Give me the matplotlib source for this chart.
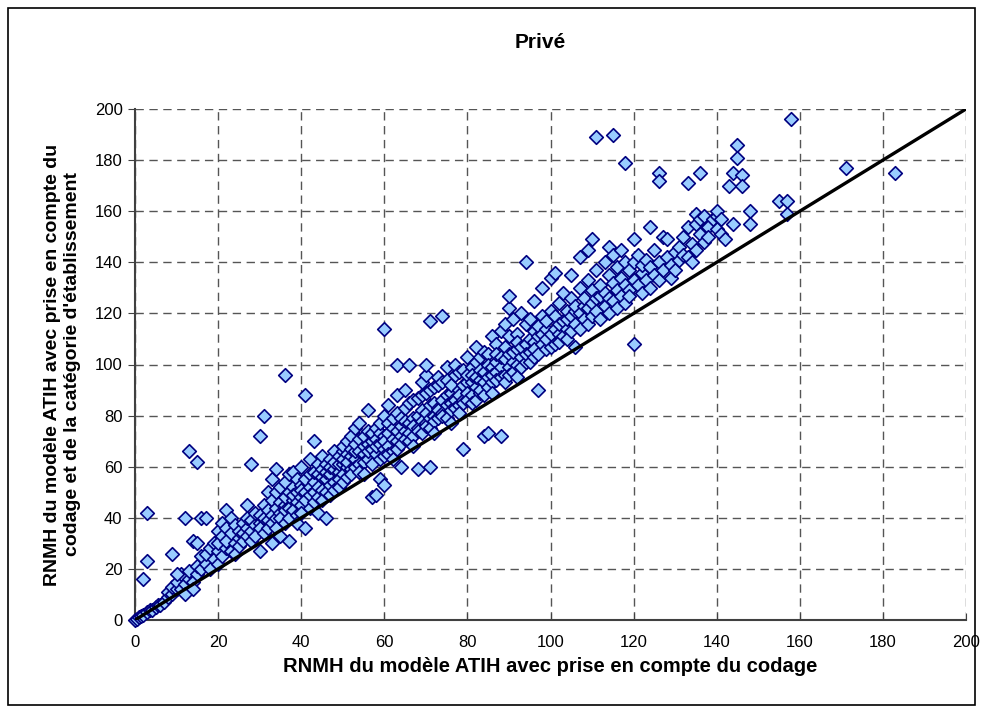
import matplotlib
matplotlib.use("Agg")
import matplotlib.pyplot as plt
from matplotlib.patches import Rectangle

plt.rcParams['font.family'] = ['Liberation Sans', 'DejaVu Sans']

# ---- data ----
seg_0_20 = [(0,0),(0.5,0.5),(1,1),(1.5,1.5),(2,2),(3,3),(3.5,4),(4,4),(5,5),(5.5,6),(6,6),(7,7),
            (8,9),(8,11),(9,10),(9,13),(10,12),(10,15),(11,12),(11,18),(12,14),(12,10),(13,16),(13,19),
            (14,15),(14,12),(15,18),(15,21),(16,20),(16,25),(17,22),(17,26),(18,20),(18,28),(19,24),
            (19,30),(20,27),(20,22),
            (2,16),(3,23),(3,42),(9,26),(10,18),(12,40),(13,66),(15,62),(14,31),(16,40),(17,40),(15,30)]
seg_20_32 = [(20,30),(20,35),(21,25),(21,33),(21,38),(22,28),(22,31),(22,36),(22,43),(23,27),(23,34),
             (23,40),(24,30),(24,26),(24,37),(25,32),(25,35),(25,29),(26,34),(26,38),(26,31),(27,36),
             (27,33),(27,45),(27,40),(28,35),(28,39),(28,31),(28,61),(29,37),(29,42),(29,33),(30,38),
             (30,36),(30,41),(30,72),(30,27),(31,40),(31,34),(31,80),(31,45),(32,39),(32,43),(32,36),(32,50)]
seg_33_42 = [(33,41),(33,47),(33,55),(33,38),(33,30),(34,44),(34,40),(34,50),(34,36),(34,59),(35,42),
             (35,46),(35,52),(35,40),(35,33),(36,45),(36,48),(36,96),(36,43),(36,54),(36,38),(37,44),
             (37,50),(37,57),(37,40),(37,31),(38,47),(38,52),(38,43),(38,49),(38,58),(39,46),(39,50),
             (39,55),(39,41),(39,38),(40,48),(40,53),(40,45),(40,60),(40,51),(40,42),(41,50),(41,88),
             (41,55),(41,36),(41,47),(42,52),(42,57),(42,49),(42,63),(42,44)]
seg_43_60 = [(43,54),(43,50),(43,58),(43,70),(43,46),(44,52),(44,57),(44,48),(44,61),(44,42),(45,56),
             (45,59),(45,51),(45,64),(45,47),(46,55),(46,58),(46,61),(46,40),(46,50),(47,57),(47,53),
             (47,63),(47,60),(47,49),(48,59),(48,54),(48,62),(48,66),(48,51),(49,58),(49,61),(49,64),
             (49,55),(49,52),(50,61),(50,57),(50,66),(50,63),(50,54),(50,68),(51,60),(51,65),(51,56),
             (51,70),(51,62),(52,64),(52,59),(52,67),(52,57),(52,72),(53,63),(53,66),(53,69),(53,60),
             (53,75),(54,66),(54,61),(54,71),(54,58),(54,77),(55,65),(55,68),(55,72),(55,62),(55,57),
             (56,69),(56,63),(56,74),(56,66),(56,82),(57,67),(57,70),(57,73),(57,61),(57,48),(58,71),
             (58,65),(58,75),(58,68),(58,49),(59,69),(59,73),(59,77),(59,63),(59,55),(60,72),(60,67),
             (60,114),(60,70),(60,80),(60,64),(60,53)]
seg_61_80 = [(61,73),(61,68),(61,77),(61,65),(61,84),(62,71),(62,75),(62,79),(62,66),(62,63),(63,74),
             (63,70),(63,81),(63,67),(63,100),(63,88),(64,76),(64,72),(64,79),(64,69),(64,60),(65,74),
             (65,78),(65,83),(65,71),(65,90),(66,77),(66,73),(66,85),(66,70),(66,100),(67,79),(67,76),
             (67,86),(67,72),(67,68),(68,80),(68,75),(68,87),(68,74),(68,59),(69,82),(69,78),(69,88),
             (69,73),(69,93),(70,81),(70,77),(70,89),(70,76),(70,96),(70,100),(71,84),(71,79),(71,90),
             (71,60),(71,117),(71,75),(72,85),(72,80),(72,91),(72,78),(72,73),(73,83),(73,82),(73,92),
             (73,79),(73,95),(74,86),(74,81),(74,119),(74,80),(74,93),(75,88),(75,84),(75,94),(75,79),
             (75,99),(76,89),(76,85),(76,92),(76,82),(76,77),(77,87),(77,86),(77,96),(77,83),(77,100),
             (78,90),(78,88),(78,97),(78,84),(78,81),(79,92),(79,86),(79,67),(79,85),(79,98),(80,93),
             (80,89),(80,96),(80,86),(80,103)]
seg_81_100 = [(81,93),(81,88),(81,99),(81,85),(81,96),(82,91),(82,95),(82,101),(82,86),(82,107),(83,94),
              (83,89),(83,103),(83,90),(83,98),(84,97),(84,93),(84,105),(84,88),(84,72),(85,95),(85,91),
              (85,104),(85,73),(85,100),(86,99),(86,93),(86,111),(86,96),(86,89),(87,97),(87,101),
              (87,108),(87,94),(87,104),(88,99),(88,95),(88,113),(88,72),(88,103),(89,102),(89,96),
              (89,116),(89,93),(89,107),(90,104),(90,99),(90,122),(90,127),(90,96),(90,111),(91,101),
              (91,105),(91,118),(91,97),(92,106),(92,100),(92,112),(92,95),(92,109),(93,103),(93,107),
              (93,120),(93,99),(94,108),(94,140),(94,101),(94,116),(94,104),(95,105),(95,110),(95,118),
              (95,101),(96,109),(96,103),(96,113),(96,106),(96,125),(97,111),(97,90),(97,115),(97,104),
              (98,108),(98,112),(98,119),(98,130),(99,114),(99,106),(99,117),(99,110),(100,112),
              (100,107),(100,121),(100,134)]
seg_101_120 = [(101,136),(101,114),(101,108),(101,119),(102,112),(102,116),(102,124),(102,109),(103,117),
               (103,111),(103,128),(104,114),(104,118),(104,121),(104,110),(105,119),(105,113),(105,126),
               (105,135),(106,116),(106,121),(106,107),(106,123),(107,120),(107,114),(107,130),(107,142),
               (108,118),(108,123),(108,126),(109,122),(109,116),(109,133),(109,145),(110,124),(110,119),
               (110,129),(110,149),(111,189),(111,121),(111,126),(111,137),(112,127),(112,118),(112,131),
               (113,123),(113,128),(113,140),(114,126),(114,146),(114,135),(114,120),(115,190),(115,125),
               (115,143),(115,132),(116,129),(116,138),(116,122),(117,127),(117,134),(117,145),(118,179),
               (118,131),(118,140),(118,124),(119,129),(119,137),(119,127),(120,108),(120,133),(120,149),
               (120,140)]
seg_121_185 = [(121,131),(121,143),(122,136),(122,139),(122,128),(123,133),(123,141),(124,138),(124,154),
               (124,130),(125,135),(125,145),(126,175),(126,172),(126,140),(126,133),(127,137),(127,150),
               (128,142),(128,149),(129,139),(129,134),(130,144),(130,137),(131,141),(131,146),(132,143),
               (132,150),(133,171),(133,154),(133,142),(134,147),(134,140),(135,159),(135,145),(135,155),
               (136,175),(136,157),(136,151),(137,158),(137,148),(138,154),(138,150),(139,157),(140,158),
               (140,160),(140,153),(141,157),(141,151),(142,149),(143,170),(144,175),(144,155),(145,186),
               (145,181),(146,174),(146,170),(148,160),(148,155),(155,164),(157,164),(157,159),(158,196),
               (171,177),(183,175)]

segments = [seg_0_20, seg_20_32, seg_33_42, seg_43_60, seg_61_80, seg_81_100, seg_101_120, seg_121_185]
xs = [p[0] for s in segments for p in s]
ys = [p[1] for s in segments for p in s]

x_ticks = [0, 20, 40, 60, 80, 100, 120, 140, 160, 180, 200]
y_ticks = [0, 20, 40, 60, 80, 100, 120, 140, 160, 180, 200]
diag = [0, 200]

# ---- figure ----
fig = plt.figure(figsize=(9.83, 7.13), dpi=100)
fig.patches.append(Rectangle((8/983, 8/713), 1-16/983, 1-16/713, transform=fig.transFigure,
                             fill=False, edgecolor='black', linewidth=1.2))
ax = fig.add_axes([135/983, 1-620/713, (966-135)/983, (620-109)/713])

ax.set_xlim(0, 200)
ax.set_ylim(0, 200)
ax.set_xticks(x_ticks)
ax.set_yticks(y_ticks)
ax.grid(True, color='#555555', linestyle=(0, (6, 4)), linewidth=1)
ax.set_axisbelow(True)

ax.scatter(xs, ys, marker='D', s=48, facecolor='#99CCFF', edgecolor='#000080',
           linewidth=1.2, zorder=3, clip_on=False)
ax.plot(diag, diag, color='black', linewidth=2.4, zorder=4)

for side in ['top', 'right']:
    ax.spines[side].set_visible(False)
for side in ['left', 'bottom']:
    ax.spines[side].set_color('#404040')
    ax.spines[side].set_linewidth(1.5)
ax.tick_params(axis='y', direction='out', length=5, labelsize=12, pad=4, color='#404040')
ax.tick_params(axis='x', direction='in', length=5, labelsize=12, pad=11, color='#404040')

ax.set_xlabel("RNMH du modèle ATIH avec prise en compte du codage", fontsize=14.5,
              fontweight='bold', labelpad=5)
ax.set_ylabel("RNMH du modèle ATIH avec prise en compte du\ncodage et de la catégorie d'établissement",
              fontsize=14, fontweight='bold', labelpad=10)
fig.text(540/983, 1-43/713, "Privé", fontsize=15, fontweight='bold', ha='center', va='center')

fig.savefig("out.png", dpi=100)
